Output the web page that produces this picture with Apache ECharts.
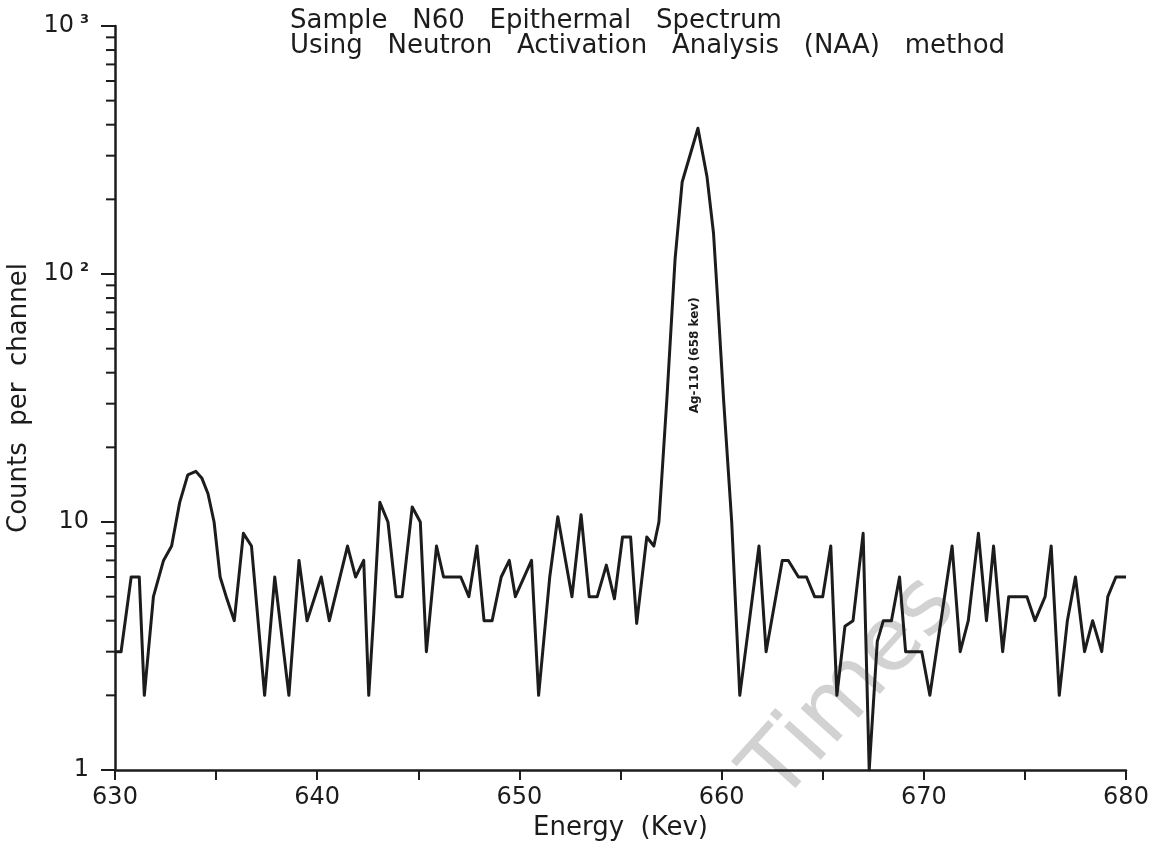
<!DOCTYPE html>
<html>
<head>
<meta charset="utf-8">
<script src="https://cdn.jsdelivr.net/npm/echarts@6/dist/echarts.min.js"></script>
<style>
  html, body { margin: 0; padding: 0; background: #fff; }
  #main-chart { width: 1163px; height: 855px; }
</style>
</head>
<body>
<div id="main-chart"></div>
<script>
// energy (keV) of each spectrum vertex
const energies = [
  630.0, 630.3, 630.8, 631.2, 631.45, 631.9, 632.4, 632.8, 633.2, 633.6,
  634.0, 634.3, 634.6, 634.9, 635.2, 635.5, 635.9, 636.35, 636.75, 637.4,
  637.9, 638.6, 639.1, 639.5, 640.2, 640.6, 641.5, 641.9, 642.3, 642.55,
  642.8, 643.1, 643.5, 643.9, 644.2, 644.7, 645.1, 645.4, 645.9, 646.25,
  647.1, 647.5, 647.9, 648.25, 648.65, 649.1, 649.5, 649.8, 650.6, 650.95,
  651.5, 651.9, 652.6, 653.05, 653.45, 653.85, 654.3, 654.7, 655.1, 655.5,
  655.8, 656.3, 656.65, 656.9, 657.3, 657.7, 658.05, 658.83, 659.28, 659.6,
  659.8, 660.1, 660.5, 660.9, 661.85, 662.2, 663.0, 663.3, 663.8, 664.2,
  664.6, 665.0, 665.4, 665.7, 666.1, 666.5, 667.0, 667.3, 667.7, 668.0,
  668.4, 668.8, 669.1, 669.9, 670.3, 671.4, 671.8, 672.2, 672.7, 673.1,
  673.45, 673.9, 674.2, 675.1, 675.5, 676.0, 676.3, 676.7, 677.1, 677.5,
  677.95, 678.35, 678.8, 679.1, 679.5, 680.0
];
// counts per channel at each vertex
const counts = [
  3, 3, 6, 6, 2, 5, 7, 8, 12, 15.5,
  16, 15, 13, 10, 6, 5, 4, 9, 8, 2,
  6, 2, 7, 4, 6, 4, 8, 6, 7, 2,
  4.3, 12, 10, 5, 5, 11.5, 10, 3, 8, 6,
  6, 5, 8, 4, 4, 6, 7, 5, 7, 2,
  6, 10.5, 5, 10.7, 5, 5, 6.7, 4.9, 8.7, 8.7,
  3.9, 8.7, 8, 10, 32, 115, 235, 387, 246, 146,
  80, 31, 10, 2, 8, 3, 7, 7, 6, 6,
  5, 5, 8, 2, 3.8, 4, 9, 1, 3.3, 4,
  4, 6, 3, 3, 2, 8, 3, 4, 9, 4,
  8, 3, 5, 5, 4, 5, 8, 2, 4, 6,
  3, 4, 3, 5, 6, 6
];
// minor ticks of the log axis
const minorTickValues = [2, 3, 4, 5, 6, 7, 8, 9, 20, 30, 40, 50, 60, 70, 80, 90,
  200, 300, 400, 500, 600, 700, 800, 900];

const titleLines = ['Sample   N60   Epithermal   Spectrum',
  'Using   Neutron   Activation   Analysis   (NAA)   method'];
const peakLabel = 'Ag-110 (658 kev)';

(function () {
  const ink = '#1c1c1c';
  const font = 'DejaVu Sans';
  const chart = echarts.init(document.getElementById('main-chart'));

  const lineData = energies.map((e, i) => [e, counts[i]]);

  const option = {
    animation: false,
    backgroundColor: '#fff',
    title: {
      text: titleLines.join('\n'),
      left: 285,
      top: 4,
      textStyle: { fontFamily: font, fontSize: 26, fontWeight: 'normal', color: ink, lineHeight: 25 }
    },
    graphic: [{
      // scan watermark
      type: 'text',
      x: 852,
      y: 690,
      rotation: 48 * Math.PI / 180,
      z: 0,
      style: {
        text: 'Times', fontFamily: font, fontSize: 90, fill: '#d2d2d2',
        align: 'center', verticalAlign: 'middle'
      }
    }],
    grid: { left: 115, right: 37, top: 26, bottom: 85, containLabel: false, outerBoundsMode: 'none' },
    xAxis: {
      type: 'value',
      min: 630,
      max: 680,
      interval: 10,
      name: 'Energy  (Kev)',
      nameLocation: 'middle',
      nameGap: 44,
      nameTextStyle: { fontFamily: font, fontSize: 26, color: ink },
      axisLine: { lineStyle: { color: ink, width: 2.5 } },
      axisTick: { show: true, length: 10, lineStyle: { color: ink, width: 2 } },
      minorTick: { show: true, splitNumber: 2, length: 10, lineStyle: { color: ink, width: 2 } },
      axisLabel: { fontFamily: font, fontSize: 24, color: ink, margin: 16 },
      splitLine: { show: false },
      minorSplitLine: { show: false }
    },
    yAxis: {
      type: 'log',
      logBase: 10,
      min: 1,
      max: 1000,
      name: 'Counts  per  channel',
      nameLocation: 'middle',
      nameGap: 72,
      nameTextStyle: { fontFamily: font, fontSize: 26, color: ink },
      axisLine: { show: true, lineStyle: { color: ink, width: 2.5 } },
      axisTick: { show: true, length: 14, lineStyle: { color: ink, width: 2 } },
      axisLabel: {
        margin: 26,
        fontFamily: font,
        fontSize: 24,
        color: ink,
        formatter: function (v) {
          if (v >= 1000) return '10{sup|3}';
          if (v >= 100) return '10{sup|2}';
          return String(Math.round(v));
        },
        rich: {
          sup: { fontFamily: font, fontSize: 13, fontWeight: 'bold', color: ink, verticalAlign: 'top', padding: [0, 0, 12, 6] }
        }
      },
      splitLine: { show: false }
    },
    series: [
      {
        type: 'line',
        data: lineData,
        showSymbol: false,
        symbol: 'none',
        z: 3,
        lineStyle: { color: ink, width: 3, join: 'round' },
        markPoint: {
          symbol: 'circle',
          symbolSize: 0,
          silent: true,
          data: [{ coord: [658.7, 47], value: 0 }],
          label: {
            show: true,
            position: 'inside',
            rotate: 90,
            formatter: peakLabel,
            fontFamily: font,
            fontSize: 12,
            fontWeight: 'bold',
            color: ink
          }
        }
      },
      {
        // minor ticks on the log axis, placed through the axis scale
        type: 'custom',
        silent: true,
        clip: false,
        z: 4,
        data: minorTickValues.map(v => [630, v]),
        renderItem: function (params, api) {
          const p = api.coord([api.value(0), api.value(1)]);
          return {
            type: 'line',
            shape: { x1: p[0] - 9, y1: p[1], x2: p[0], y2: p[1] },
            style: { stroke: ink, lineWidth: 2 }
          };
        }
      }
    ]
  };

  chart.setOption(option);
})();
</script>
</body>
</html>
